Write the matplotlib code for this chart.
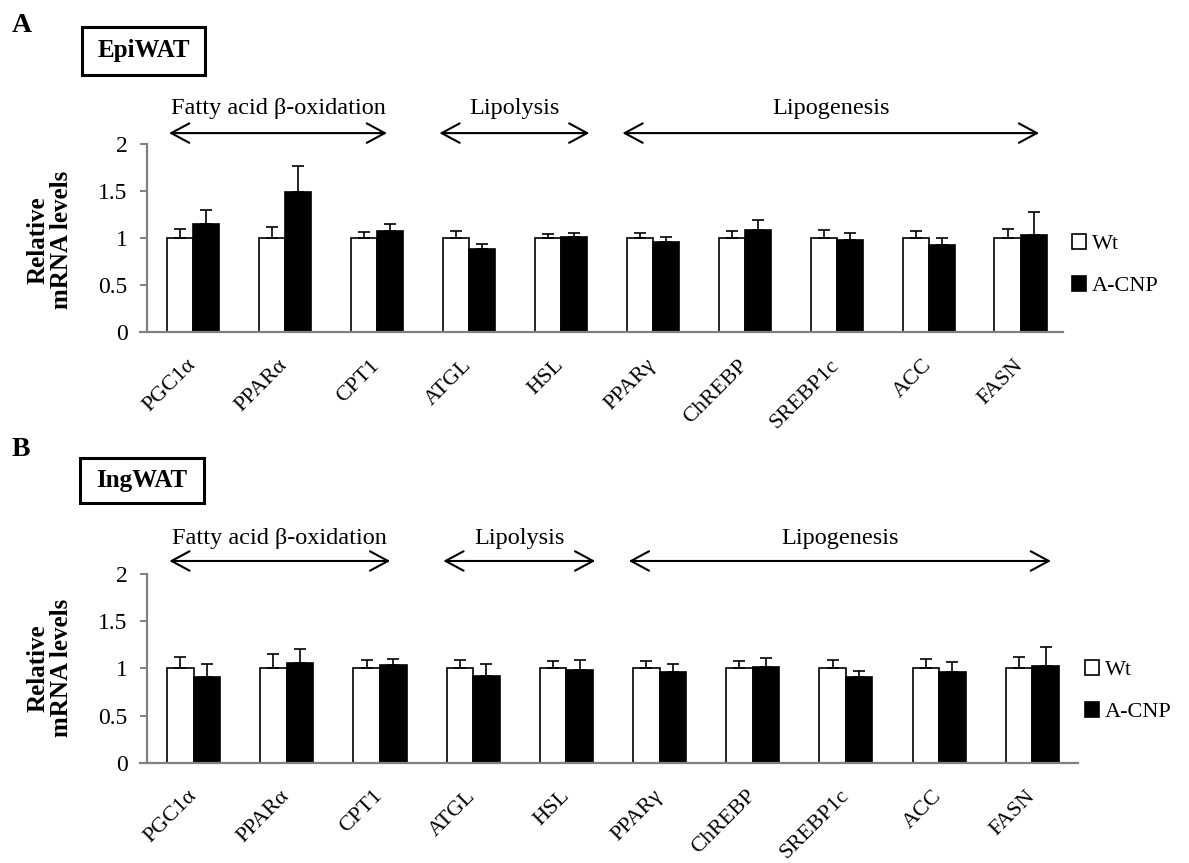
import numpy as np
import matplotlib.pyplot as plt
from matplotlib.patches import Rectangle

plt.rcParams['font.family'] = ['Liberation Serif', 'DejaVu Serif']

genes = ['PGC1α', 'PPARα', 'CPT1', 'ATGL', 'HSL', 'PPARγ', 'ChREBP', 'SREBP1c', 'ACC', 'FASN']

# EpiWAT (panel A)
epi_wt = [1, 1, 1, 1, 1, 1, 1, 1, 1, 1]
epi_wt_err = [0.10, 0.12, 0.06, 0.07, 0.045, 0.055, 0.07, 0.085, 0.07, 0.095]
epi_cnp = [1.145, 1.49, 1.07, 0.88, 1.01, 0.955, 1.085, 0.98, 0.93, 1.03]
epi_cnp_err = [0.155, 0.28, 0.08, 0.06, 0.045, 0.06, 0.105, 0.075, 0.075, 0.245]

# IngWAT (panel B)
ing_wt = [1, 1, 1, 1, 1, 1, 1, 1, 1, 1]
ing_wt_err = [0.125, 0.15, 0.09, 0.09, 0.077, 0.077, 0.077, 0.09, 0.10, 0.125]
ing_cnp = [0.91, 1.053, 1.035, 0.92, 0.98, 0.965, 1.014, 0.91, 0.965, 1.025]
ing_cnp_err = [0.14, 0.147, 0.065, 0.13, 0.11, 0.085, 0.096, 0.065, 0.10, 0.205]

groups = ['Fatty acid β-oxidation', 'Lipolysis', 'Lipogenesis']

W, H = 1189, 863
fig = plt.figure(figsize=(W / 100, H / 100), dpi=100)


def px(x, y):
    # pixel position (from top-left) -> figure fraction
    return x / W, 1 - y / H


def panel(rect, xmax, wt, wt_err, cnp, cnp_err, letter, letter_y, tissue, box,
          arrow_y, label_y, ylab_y, leg_pos):
    ax = fig.add_axes(rect)
    x = np.arange(len(genes))
    w = 0.285
    ek = dict(elinewidth=1.2, capthick=1.2, ecolor='black')
    ax.bar(x - w/2, wt, w, color='white', edgecolor='black', linewidth=1.2,
           yerr=[np.zeros(len(wt)), wt_err], capsize=4.5, error_kw=ek, label='Wt')
    ax.bar(x + w/2, cnp, w, color='black', edgecolor='black', linewidth=1.2,
           yerr=[np.zeros(len(cnp)), cnp_err], capsize=4.5, error_kw=ek, label='A-CNP')
    ax.set_xlim(-0.58, xmax)
    ax.set_ylim(0, 2)
    for s in ['top', 'right']:
        ax.spines[s].set_visible(False)
    for s in ['left', 'bottom']:
        ax.spines[s].set_color('#808080')
        ax.spines[s].set_linewidth(1.6)
    ax.spines['left'].set_position(('data', -0.5))
    ax.set_yticks([0, 0.5, 1, 1.5, 2])
    ax.set_yticklabels(['0', '0.5', '1', '1.5', '2'])
    ax.set_xticks(x)
    ax.set_xticklabels(genes, rotation=45, ha='right', va='center', rotation_mode='anchor')
    ax.tick_params(axis='x', length=0, pad=22, labelsize=16)
    ax.tick_params(axis='y', length=5, width=1.4, color='#808080', pad=9, labelsize=17)

    fig.text(*px(50, ylab_y), 'Relative\nmRNA levels', rotation=90, fontsize=18,
             fontweight='bold', ha='center', va='center', multialignment='center',
             linespacing=1.0)

    # group arrows above the axes
    spans = [(-0.26, 2.11), (2.68, 4.31), (4.67, 9.20)]
    trans = ax.get_xaxis_transform()
    for label, (a, b) in zip(groups, spans):
        ax.annotate('', xy=(a, arrow_y), xytext=(b, arrow_y), xycoords=trans,
                    textcoords=trans, annotation_clip=False,
                    arrowprops=dict(arrowstyle='<->,head_length=1.3,head_width=0.7',
                                    mutation_scale=10, color='black', lw=1.5,
                                    shrinkA=0, shrinkB=0))
        ax.text((a + b) / 2, label_y, label, transform=trans, ha='center',
                va='center', fontsize=17.5)

    ax.legend(loc='center left', bbox_to_anchor=px(*leg_pos), bbox_transform=fig.transFigure,
              frameon=False, fontsize=16, borderpad=0, borderaxespad=0,
              handlelength=0.65, handleheight=0.65, handletextpad=0.25, labelspacing=1.0)
    fig.text(*px(12, letter_y), letter, fontsize=20, fontweight='bold',
             va='center', ha='left')
    # tissue name in a framed box
    x0, y0, x1, y1 = box
    fig.patches.append(Rectangle(px(x0, y1), (x1 - x0) / W, (y1 - y0) / H,
                                 transform=fig.transFigure, facecolor='white',
                                 edgecolor='black', lw=2.2))
    fig.text(*px((x0 + x1) / 2, (y0 + y1) / 2), tissue, fontsize=18, fontweight='bold',
             ha='center', va='center')
    return ax


# top: 0 at y=332 px, 2 at y=144 px; spine at x=147, 92 px per category
panel([139.6 / W, 1 - 332 / H, (1063 - 139.6) / W, 188 / H], 9.46,
      epi_wt, epi_wt_err, epi_cnp, epi_cnp_err,
      'A', 25, 'EpiWAT', (82, 27, 205, 75), 1.058, 1.19, 240, (1072, 265))
# bottom: 0 at y=762.7 px, 2 at y=574 px; 93.2 px per category
panel([139.5 / W, 1 - 762.7 / H, (1078 - 139.5) / W, 188.7 / H], 9.49,
      ing_wt, ing_wt_err, ing_cnp, ing_cnp_err,
      'B', 449, 'IngWAT', (80, 458, 204, 503), 1.069, 1.19, 668, (1085, 691))

fig.savefig('out.png', dpi=100)
